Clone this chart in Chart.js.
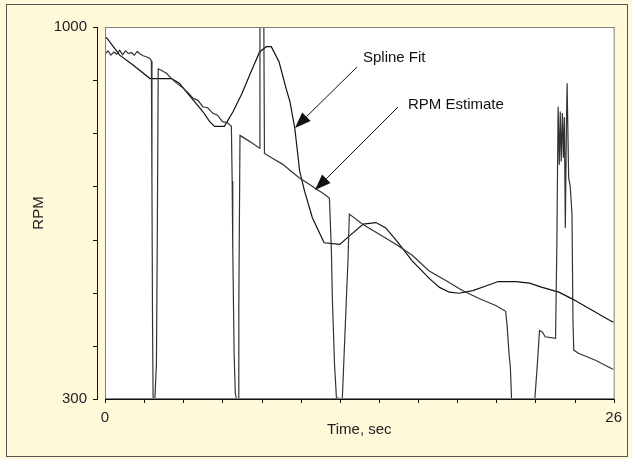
<!DOCTYPE html>
<html>
<head>
<meta charset="utf-8">
<script src="https://cdn.jsdelivr.net/npm/chart.js@4.4.0/dist/chart.umd.min.js"></script>
<style>
  html, body { margin: 0; padding: 0; background: #fff9da; }
</style>
</head>
<body>
<canvas id="rpmChart" width="632" height="459"></canvas>
<script>
// time axis (sec) and rpm
var splineTime = [0, 0.1, 0.75, 1.45, 2.3, 3.4, 3.8, 4.5, 5.0, 5.35, 5.6, 6.1, 6.55, 7.0, 7.4, 7.9, 8.25, 8.5, 8.9, 9.25, 9.45, 9.7, 9.95, 10.2, 10.6, 11.2, 12.0, 12.5, 13.2, 13.85, 14.35, 14.9, 15.7, 16.6, 17.1, 17.6, 18.1, 18.8, 19.5, 20.1, 21.0, 21.7, 22.35, 23.2, 23.9, 24.9, 25.9, 26];
var splineRpm = [981, 979, 947, 928, 903, 903, 894, 863, 841, 822, 813, 813, 841, 875, 910, 953, 963, 963, 934, 885, 860, 810, 729, 691, 641, 594, 591, 607, 629, 632, 622, 598, 560, 526, 510, 501, 499, 504, 513, 521, 521, 518, 510, 501, 488, 467, 446, 445];

var estTime = [0, 0.15, 0.3, 0.45, 0.6, 0.75, 0.9, 1.05, 1.2, 1.35, 1.5, 1.65, 1.8, 1.95, 2.1, 2.3, 2.37, 2.4, 2.43, 2.46, 2.55, 2.63, 2.68, 2.72,
  2.9, 3.14, 3.4, 3.7, 4.0, 4.25, 4.5, 4.75, 5.0, 5.25, 5.5, 5.75, 6.0, 6.25, 6.46, 6.5, 6.53, 6.6, 6.66, 6.72, 6.8, 6.84, 6.9,
  7.2, 7.5, 7.9, 7.92, 8.12, 8.15, 8.6, 9.07, 9.5, 9.94, 10.4, 10.8, 11.1, 11.47, 11.57, 11.62, 11.73, 11.83, 12.13, 12.34, 12.42, 12.49,
  13.17, 14.02, 14.87, 15.72, 16.57, 17.42, 18.27, 19.12, 19.97, 20.48, 20.55, 20.65, 20.72, 20.78, 21.97, 22.09, 22.21, 22.35, 22.5, 23.03,
  23.1, 23.16, 23.22, 23.27, 23.32, 23.38, 23.43, 23.48, 23.53, 23.58, 23.62, 23.7, 23.78, 23.87, 23.92, 23.96, 24.2, 25.07, 25.91, 26];
var estRpm = [949, 955, 947, 953, 949, 956, 948, 955, 950, 952, 947, 954, 949, 946, 944, 941, 936, 700, 442, 300, 300, 367, 648, 921,
  918, 913, 903, 893, 885, 876, 866, 862, 850, 848, 838, 834, 822, 820, 813, 710, 585, 386, 311, 300, 300, 473, 796,
  789, 782, 772, 1000, 1000, 762, 752, 742, 729, 716, 705, 695, 688, 678, 583, 491, 367, 302, 300, 491, 560, 648,
  629, 610, 591, 570, 541, 523, 504, 489, 476, 465, 440, 386, 360, 301, 300, 360, 429, 426, 417, 414,
  600, 850, 741, 841, 747, 838, 754, 830, 622, 800, 894, 716, 700, 648, 448, 392, 386, 373, 357, 356];

var xTicksShown = [0, 26];
var yTicksShown = [300, 1000];

var notes = [
  { text: "Spline Fit", tx: 363, ty: 62, x1: 357, y1: 67, x2: 295, y2: 128 },
  { text: "RPM Estimate", tx: 408, ty: 109, x1: 398, y1: 107, x2: 315, y2: 190 }
];

function pts(xs, ys) {
  return xs.map(function (t, i) { return { x: t, y: ys[i] }; });
}

var FONT = "Liberation Sans, Arial, sans-serif";

var framePlugin = {
  id: "frame",
  beforeDraw: function (chart) {
    var c = chart.ctx, a = chart.chartArea;
    c.save();
    c.fillStyle = "#fff9da";
    c.fillRect(0, 0, chart.width, chart.height);
    c.strokeStyle = "#555";
    c.lineWidth = 1;
    c.strokeRect(6.5, 4.5, 621, 452);
    c.fillStyle = "#ffffff";
    c.fillRect(a.left, a.top, a.right - a.left, a.bottom - a.top);
    c.restore();
  },
  afterDraw: function (chart) {
    var c = chart.ctx, a = chart.chartArea;
    var xs = chart.scales.x, ys = chart.scales.y;
    c.save();
    // plot border
    c.strokeStyle = "#808080";
    c.lineWidth = 1;
    c.strokeRect(a.left + 0.5, a.top + 0.5, a.right - a.left, a.bottom - a.top - 1);
    // y axis, set off from the plot
    c.strokeStyle = "#111";
    c.beginPath();
    c.moveTo(97.5, a.top);
    c.lineTo(97.5, a.bottom);
    ys.ticks.forEach(function (t) {
      var py = Math.round(ys.getPixelForValue(t.value)) + 0.5;
      c.moveTo(93, py);
      c.lineTo(98, py);
    });
    // x axis
    c.moveTo(a.left, a.bottom + 0.5);
    c.lineTo(a.right + 1, a.bottom + 0.5);
    xs.ticks.forEach(function (t) {
      var px = Math.round(xs.getPixelForValue(t.value)) + 0.5;
      c.moveTo(px, a.bottom);
      c.lineTo(px, a.bottom + 4);
    });
    c.stroke();

    // axis titles
    c.fillStyle = "#222";
    c.font = "15px " + FONT;
    c.textAlign = "center";
    c.textBaseline = "middle";
    c.fillText("Time, sec", (a.left + a.right) / 2, 430);
    c.save();
    c.translate(39, (a.top + a.bottom) / 2);
    c.rotate(-Math.PI / 2);
    c.fillText("RPM", 0, 0);
    c.restore();

    // callouts
    c.textAlign = "left";
    c.textBaseline = "alphabetic";
    notes.forEach(function (n) {
      c.fillStyle = "#111";
      c.fillText(n.text, n.tx, n.ty);
      var ang = Math.atan2(n.y2 - n.y1, n.x2 - n.x1);
      var len = 16, hw = 6;
      var bx = n.x2 - len * Math.cos(ang), by = n.y2 - len * Math.sin(ang);
      c.strokeStyle = "#111";
      c.lineWidth = 1;
      c.beginPath();
      c.moveTo(n.x1, n.y1);
      c.lineTo(bx, by);
      c.stroke();
      c.beginPath();
      c.moveTo(n.x2, n.y2);
      c.lineTo(bx + hw * Math.sin(ang), by - hw * Math.cos(ang));
      c.lineTo(bx - hw * Math.sin(ang), by + hw * Math.cos(ang));
      c.closePath();
      c.fill();
    });
    c.restore();
  }
};

new Chart(document.getElementById("rpmChart"), {
  type: "line",
  data: {
    datasets: [
      {
        label: "RPM Estimate",
        data: pts(estTime, estRpm),
        borderColor: "#333",
        borderWidth: 1.2,
        pointRadius: 0,
        tension: 0
      },
      {
        label: "Spline Fit",
        data: pts(splineTime, splineRpm),
        borderColor: "#111",
        borderWidth: 1.2,
        pointRadius: 0,
        tension: 0
      }
    ]
  },
  options: {
    responsive: false,
    animation: false,
    layout: { padding: { top: 25, right: 17, left: 0, bottom: 0 } },
    plugins: {
      legend: { display: false },
      tooltip: { enabled: false }
    },
    scales: {
      x: {
        type: "linear",
        min: 0,
        max: 26,
        grid: { display: false, drawTicks: false },
        border: { display: false },
        afterFit: function (s) { s.height = 60; },
        ticks: {
          stepSize: 2,
          autoSkip: false,
          maxRotation: 0,
          padding: 10,
          color: "#222",
          font: { family: FONT, size: 15 },
          callback: function (v) { return xTicksShown.indexOf(v) >= 0 ? String(v) : ""; }
        }
      },
      y: {
        min: 300,
        max: 1000,
        grid: { display: false, drawTicks: false },
        border: { display: false },
        afterFit: function (s) { s.width = 105; },
        ticks: {
          stepSize: 100,
          autoSkip: false,
          padding: 18,
          color: "#222",
          font: { family: FONT, size: 15 },
          callback: function (v) { return yTicksShown.indexOf(v) >= 0 ? String(v) : ""; }
        }
      }
    }
  },
  plugins: [framePlugin]
});
</script>
</body>
</html>
